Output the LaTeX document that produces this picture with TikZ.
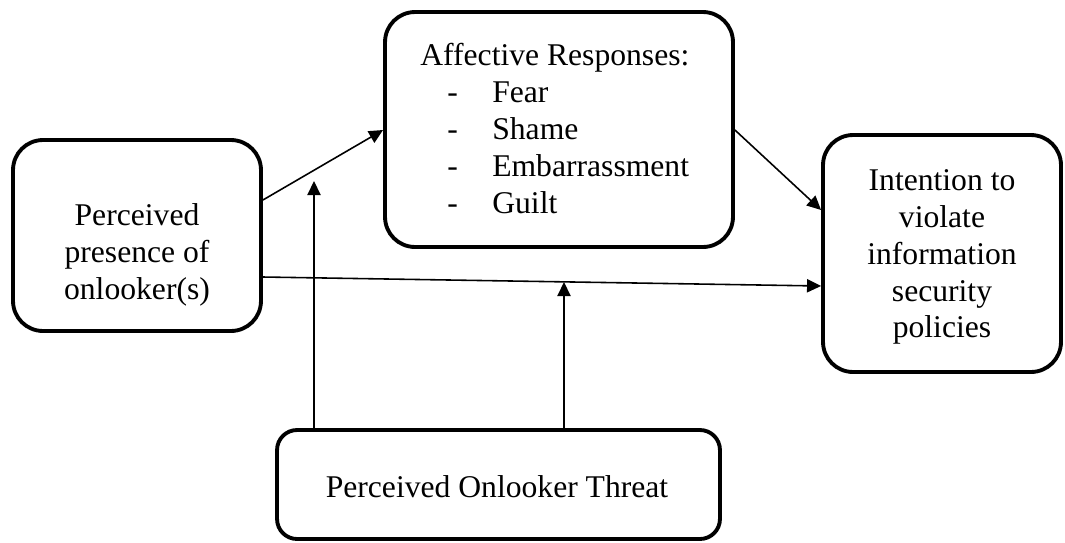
\documentclass[tikz,border=0pt]{standalone}
\usepackage{fontspec}
\setmainfont{Liberation Serif}
\usetikzlibrary{arrows.meta}
\begin{document}
\begin{tikzpicture}[x=0.02cm,y=-0.02cm,
  box/.style={draw,line width=2.2pt,rounded corners=0.6cm,inner sep=0pt},
  lbl/.style={inner sep=0pt,font=\fontsize{18}{21}\selectfont},
  arr/.style={line width=0.9pt,-{Triangle[length=8pt,width=7.5pt]}},
  lin/.style={line width=0.9pt}]
\useasboundingbox (0,0) rectangle (1065,542);
% boxes
\node[box,minimum width=4.96cm,minimum height=3.82cm] (pres) at (137,235.5) {};
\node[box,minimum width=6.96cm,minimum height=4.70cm] (aff) at (559,129.5) {};
\node[box,minimum width=4.76cm,minimum height=4.74cm] (int) at (942,253.5) {};
\node[box,rounded corners=0.4cm,minimum width=8.86cm,minimum height=2.18cm] (thr) at (498.5,484.5) {};
% texts
\node[lbl,align=center] (prestxt) at (137,255) {Perceived\\presence of\\onlooker(s)};
\node[lbl,align=left,anchor=north west] (afftxt) at (420,43)
  {Affective Responses:\\
   \makebox[1.44cm][l]{\hspace{0.54cm}-}Fear\\
   \makebox[1.44cm][l]{\hspace{0.54cm}-}Shame\\
   \makebox[1.44cm][l]{\hspace{0.54cm}-}Embarrassment\\
   \makebox[1.44cm][l]{\hspace{0.54cm}-}Guilt};
\node[lbl,align=center] (inttxt) at (942,257) {Intention to\\violate\\information\\security\\policies};
\node[lbl,anchor=base] (thrtxt) at (497,497) {Perceived Onlooker Threat};
% connectors
\coordinate (m1) at (314,181);
\coordinate (m2) at (564,282);
\draw[arr] (pres.east |- 0,200) -- (aff.west |- 0,130);
\draw[arr] (aff.east |- 0,130) -- (int.west |- 0,210);
\draw[arr] (pres.east |- 0,277) -- (int.west |- 0,286);
\draw[arr] (thr.north -| m1) -- (m1);
\draw[arr] (thr.north -| m2) -- (m2);
\end{tikzpicture}
\end{document}
